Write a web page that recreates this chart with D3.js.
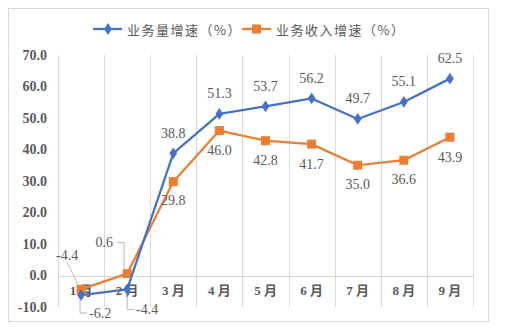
<!DOCTYPE html>
<html><head><meta charset="utf-8">
<script src="https://cdn.jsdelivr.net/npm/d3@7"></script>
<style>
body{margin:0;background:#fff;}
svg{display:block;}
</style></head>
<body>
<svg id="chart" width="515" height="331"></svg>
<script>
const categories = ["1月","2月","3月","4月","5月","6月","7月","8月","9月"];
const volumeGrowth = [-6.2,-4.4,38.8,51.3,53.7,56.2,49.7,55.1,62.5];
const revenueGrowth = [-4.4,0.6,29.8,46.0,42.8,41.7,35.0,36.6,43.9];
const seriesNames = ["业务量增速（%）","业务收入增速（%）"];
const yTicks = [-10,0,10,20,30,40,50,60,70];

(function(){
const svg = d3.select("#chart");
const pLeft = 58, pRight = 473, pTop = 55, pBottom = 307;
const blue = "#4472C4", orange = "#ED7D31", txt = "#595959", grid = "#D9D9D9";
const serif = "'Liberation Serif','Times New Roman','Noto Sans CJK SC',serif";

svg.append("rect").attr("x",8.5).attr("y",8.5).attr("width",480).attr("height",313)
  .attr("fill","#fff").attr("stroke",grid).attr("stroke-width",1);

const x = d3.scaleBand().domain(categories).range([pLeft,pRight]).padding(0);
const y = d3.scaleLinear().domain([-10,70]).range([pBottom,pTop]);
const cx = d => x(d) + x.bandwidth()/2;

const bounds = categories.map(c => x(c)).concat([pRight]);
svg.append("g").selectAll("line").data(bounds).join("line")
  .attr("x1",d=>Math.round(d)+0.5).attr("x2",d=>Math.round(d)+0.5)
  .attr("y1",pTop).attr("y2",pBottom)
  .attr("stroke",grid).attr("stroke-width",1);

svg.append("line").attr("x1",pLeft).attr("x2",pRight)
  .attr("y1",Math.round(y(0))+0.5).attr("y2",Math.round(y(0))+0.5)
  .attr("stroke",grid).attr("stroke-width",1);

const yAxis = d3.axisLeft(y).tickValues(yTicks).tickFormat(d=>d.toFixed(1)).tickSize(0).tickPadding(11);
const gy = svg.append("g").attr("transform",`translate(${pLeft},0)`).call(yAxis);
gy.select(".domain").remove();
gy.selectAll("text").attr("fill",txt).style("font-family",serif).style("font-size","14px").style("font-weight","bold");

const xAxis = d3.axisBottom(x).tickSize(0).tickPadding(0).tickFormat(d=>d.replace("月"," 月"));
const gx = svg.append("g").attr("transform",`translate(0,${y(0)})`).call(xAxis);
gx.select(".domain").remove();
gx.selectAll("text").attr("y",10).attr("fill",txt).style("font-family",serif).style("font-size","13px").style("font-weight","bold");

const line = d3.line().x((d,i)=>cx(categories[i])).y(d=>y(d));

svg.append("path").datum(revenueGrowth).attr("d",line).attr("fill","none")
  .attr("stroke",orange).attr("stroke-width",2.25).attr("stroke-linejoin","round");
svg.append("g").selectAll("rect").data(revenueGrowth).join("rect")
  .attr("x",(d,i)=>cx(categories[i])-4.5).attr("y",d=>y(d)-4.5)
  .attr("width",9).attr("height",9).attr("fill",orange);

svg.append("path").datum(volumeGrowth).attr("d",line).attr("fill","none")
  .attr("stroke",blue).attr("stroke-width",2.25).attr("stroke-linejoin","round");
const diamond = d3.symbol().type(d3.symbolDiamond).size(40);
svg.append("g").selectAll("path").data(volumeGrowth).join("path")
  .attr("d",diamond).attr("transform",(d,i)=>`translate(${cx(categories[i])},${y(d)}) scale(1.15,1)`)
  .attr("fill",blue);

const labelStyle = s => s.attr("fill",txt).attr("text-anchor","middle").attr("dominant-baseline","central")
  .style("font-family",serif).style("font-size","14px");
const blueOff = [[19,18],[20,20],[0,-20],[0,-20],[0,-20],[0,-20],[0,-20],[0,-20],[0,-20]];
const orangeOff = [[-14,-34],[-23,-31],[0,19],[0,20],[0,20],[0,20],[0,19],[0,19],[0,20]];
const labels = svg.append("g");
volumeGrowth.forEach((v,i)=>{
  labels.append("text").attr("x",cx(categories[i])+blueOff[i][0]).attr("y",y(v)+blueOff[i][1])
    .text(v.toFixed(1)).call(labelStyle);
});
revenueGrowth.forEach((v,i)=>{
  labels.append("text").attr("x",cx(categories[i])+orangeOff[i][0]).attr("y",y(v)+orangeOff[i][1])
    .text(v.toFixed(1)).call(labelStyle);
});
const leaders = svg.append("g").attr("fill","none").attr("stroke","#A6A6A6").attr("stroke-width",0.8);
{const px=cx(categories[0]), py=y(volumeGrowth[0]);
 leaders.append("polyline").attr("points",`${px-1},${py+4} ${px-1},${py+18} ${px+6},${py+18}`);}
{const px=cx(categories[1]), py=y(volumeGrowth[1]);
 leaders.append("polyline").attr("points",`${px},${py+5} ${px},${py+20} ${px+7},${py+20}`);}
{const px=cx(categories[0]), py=y(revenueGrowth[0]);
 leaders.append("polyline").attr("points",`${px-14},${py-27} ${px-2},${py-3}`);}
{const px=cx(categories[1]), py=y(revenueGrowth[1]);
 leaders.append("polyline").attr("points",`${px-10},${py-31} ${px-3},${py-31} ${px-3},${py-4}`);}

const lg = svg.append("g");
const legendItems = [
  {name:seriesNames[0], color:blue, x:93, shape:"diamond"},
  {name:seriesNames[1], color:orange, x:242, shape:"square"}
];
legendItems.forEach(it=>{
  lg.append("line").attr("x1",it.x).attr("x2",it.x+29).attr("y1",29).attr("y2",29)
    .attr("stroke",it.color).attr("stroke-width",2.25);
  if(it.shape==="diamond"){
    lg.append("path").attr("d",diamond).attr("transform",`translate(${it.x+15},29) scale(1.15,1)`).attr("fill",it.color);
  } else {
    lg.append("rect").attr("x",it.x+10).attr("y",24.5).attr("width",9).attr("height",9).attr("fill",it.color);
  }
  lg.append("text").attr("x",it.x+34).attr("y",29).attr("dominant-baseline","central")
    .attr("fill",txt).style("font-family","'Noto Sans CJK SC',sans-serif").style("font-size","13px")
    .style("letter-spacing","1.5px").text(it.name);
});
})();
</script>
</body></html>
